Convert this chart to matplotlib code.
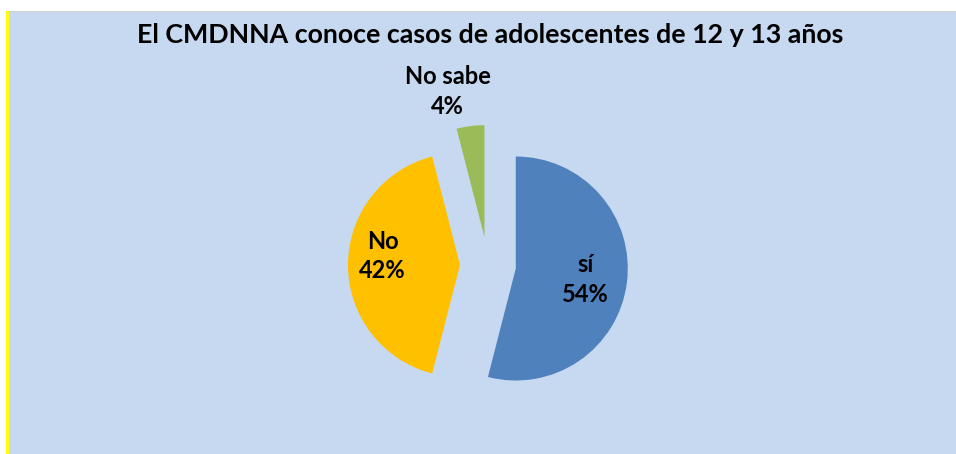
import matplotlib.pyplot as plt
from matplotlib.patches import Rectangle

labels = ['sí', 'No', 'No sabe']
shares = [54, 42, 4]
colors = ['#4F81BD', '#FFC000', '#9BBB59']
title = 'El CMDNNA conoce casos de adolescentes de 12 y 13 años'

W, H = 956, 454
fig = plt.figure(figsize=(W / 100, H / 100), dpi=100)
fig.patch.set_facecolor('white')

# chart area background + yellow left edge
fig.patches.append(Rectangle((9 / W, 0), 1 - 9 / W, (H - 11) / H, transform=fig.transFigure,
                             facecolor='#C6D9F0', edgecolor='none', zorder=-2))
fig.patches.append(Rectangle((6 / W, 0), 3 / W, (H - 11) / H, transform=fig.transFigure,
                             facecolor='#FFFF00', edgecolor='none', zorder=-2))
fig.patches.append(Rectangle((9 / W, (H - 12) / H), 1 - 9 / W, 1 / H, transform=fig.transFigure,
                             facecolor='#C9D3C8', edgecolor='none', zorder=-2))

# pie: radius 1 -> 112 px, centre at (488, 265) px from top-left
R = 112
cx, cy = 488, H - 265
s = 2.0
side = 2 * s * R
ax = fig.add_axes([(cx - side / 2) / W, (cy - side / 2) / H, side / W, side / H])

wedges, _ = ax.pie(shares, colors=colors, startangle=90, counterclock=False,
                   explode=[0.25, 0.25, 0.25], radius=1,
                   wedgeprops=dict(linewidth=0))
ax.set_xlim(-s, s)
ax.set_ylim(-s, s)
ax.set_aspect('equal')
ax.axis('off')

lab_pos = [(0.87, -0.13), (-0.94, 0.08), (-0.36, 1.55)]
for lab, v, (x, y) in zip(labels, shares, lab_pos):
    ax.text(x, y, f'{lab}\n{v}%', ha='center', va='center', fontsize=17,
            fontweight='bold', family='Lato', linespacing=1.35)

fig.text(490 / W, 1 - 35 / H, title, ha='center', va='center', fontsize=19.3,
         fontweight='bold', family='Lato')

fig.savefig('out.png', dpi=100)
